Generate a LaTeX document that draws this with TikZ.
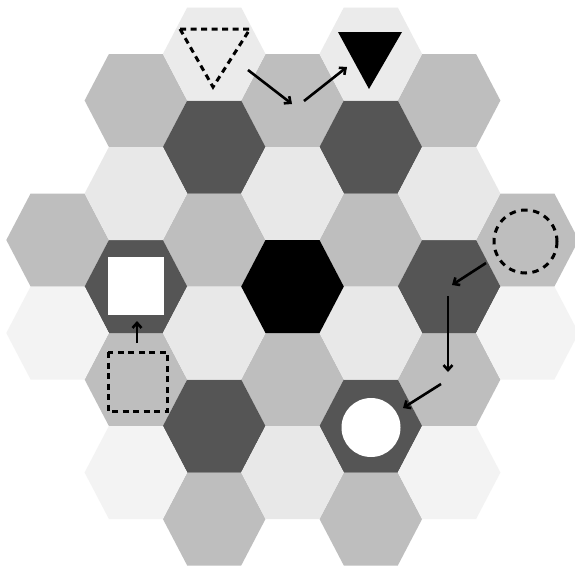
\documentclass[tikz,border=0pt]{standalone}
\usetikzlibrary{arrows.meta}
\definecolor{hexmed}{HTML}{BEBEBE}
\definecolor{hexdark}{HTML}{555555}
\definecolor{hexlight}{HTML}{E8E8E8}
\definecolor{hextop}{HTML}{EBEBEB}
\definecolor{hexfaint}{HTML}{F3F3F3}
\tikzset{
  hexagon/.pic={\path[pic actions] (51.3,0) -- (27,46.5) -- (-27,46.5) -- (-51.3,0) -- (-27,-46.5) -- (27,-46.5) -- cycle;},
  movearrow/.style={line width=2.6pt, -{Straight Barb[length=5pt,width=9pt]}},
  dashline/.style={line width=3pt, dash pattern=on 6pt off 4.5pt},
  dashcirc/.style={line width=3pt, dash pattern=on 6.5pt off 5.5pt},
}
\begin{document}
\begin{tikzpicture}[x=1pt,y=-1pt]
\useasboundingbox (0,0) rectangle (575,568);
\fill[white] (0,0) rectangle (575,568);
% column x: -3:57.6 -2:135.9 -1:214.2 0:292.5 1:370.8 2:449.1 3:527.4
% medium grey
\foreach \x/\y in {57.6/240, 135.9/100.5, 135.9/379.5, 214.2/240, 214.2/519, 292.5/100.5, 292.5/379.5, 370.8/240, 370.8/519, 449.1/100.5, 449.1/379.5, 527.4/240}
  \pic[fill=hexmed] at (\x,\y) {hexagon};
% dark grey
\foreach \x/\y in {135.9/286.5, 214.2/147, 214.2/426, 370.8/147, 370.8/426, 449.1/286.5}
  \pic[fill=hexdark] at (\x,\y) {hexagon};
% light
\foreach \x/\y in {135.9/193.5, 214.2/333, 292.5/193.5, 292.5/472.5, 370.8/333, 449.1/193.5}
  \pic[fill=hexlight] at (\x,\y) {hexagon};
% top (triangle) hexes
\foreach \x/\y in {214.2/54, 370.8/54}
  \pic[fill=hextop] at (\x,\y) {hexagon};
% faint
\foreach \x/\y in {57.6/333, 135.9/472.5, 449.1/472.5, 527.4/333}
  \pic[fill=hexfaint] at (\x,\y) {hexagon};
% centre black
\pic[fill=black] at (292.5,286.5) {hexagon};

% shapes
\coordinate (tA) at (180,29); \coordinate (tB) at (250,29); \coordinate (tC) at (213,87);
\draw[dashline, line join=miter] (tA) -- (tB) -- (tC) -- cycle;
\coordinate (bA) at (338,32); \coordinate (bB) at (402,32); \coordinate (bC) at (369,89);
\fill[black] (bA) -- (bB) -- (bC) -- cycle;
\coordinate (sqW1) at (108,257); \coordinate (sqW2) at (164,315);
\fill[white] (sqW1) rectangle (sqW2);
\coordinate (sqD1) at (108,352); \coordinate (sqD2) at (167,411);
\draw[dashline] (sqD1) rectangle (sqD2);
\coordinate (cD) at (525.5,241.5);
\draw[dashcirc] (cD) circle (31.5);
\coordinate (cW) at (371,427.5);
\fill[white] (cW) circle (29.5);

% arrows
\coordinate (a1s) at (248,70);  \coordinate (a1e) at (292,104);
\coordinate (a2s) at (304,101); \coordinate (a2e) at (347,67);
\coordinate (a3s) at (137,343); \coordinate (a3e) at (137,321);
\coordinate (a4s) at (486,263); \coordinate (a4e) at (452,285);
\coordinate (a5s) at (448,296); \coordinate (a5e) at (448,372);
\coordinate (a6s) at (441,384); \coordinate (a6e) at (403,408);
\draw[movearrow] (a1s) -- (a1e);
\draw[movearrow] (a2s) -- (a2e);
\draw[movearrow] (a3s) -- (a3e);
\draw[movearrow] (a4s) -- (a4e);
\draw[movearrow] (a5s) -- (a5e);
\draw[movearrow] (a6s) -- (a6e);
\end{tikzpicture}
\end{document}
